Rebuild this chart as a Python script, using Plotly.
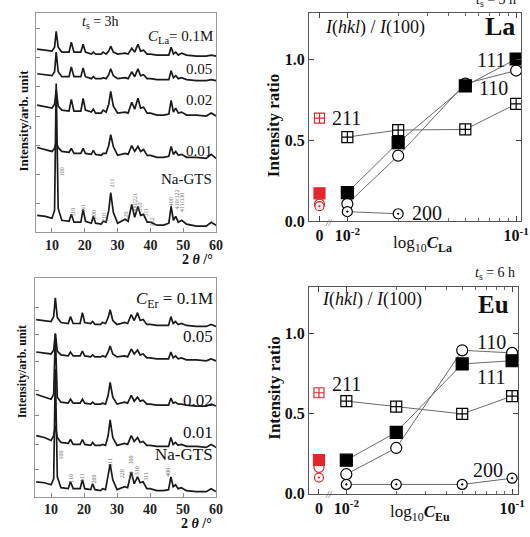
import plotly.graph_objects as go

W, H = 530, 537
def px(x): return x / W
def py(y): return 1 - y / H

# ---------------- XRD data (2theta grid shared, intensities in arb. units) ----------------
TT = [5.5, 8, 10, 10.8, 11.3, 11.9, 13, 15.2, 15.9, 16.7, 18.8, 19.5, 20.2, 22.0, 22.6,
      23.3, 25, 25.6, 26.5, 27.3, 27.9, 28.7, 30, 32.3, 33.2, 34.3, 35.2, 36.2, 37, 37.9,
      39, 40, 42, 44, 45.6, 46.3, 47, 47.7, 48.5, 49.5, 51, 54, 57, 58.5, 60]

LA_NAGTS = [17, 16, 14, 22, 151, 24, 12, 11, 18, 10, 10, 23, 11, 9, 16, 9, 8, 11, 10, 22,
            40, 20, 9, 13, 11, 28, 15, 26, 17, 18, 10, 10, 7, 7, 9, 26, 12, 16, 10, 12, 8, 6, 6, 10, 7]
LA_001 = [86, 84, 82, 85, 92, 86, 82, 81, 85, 80, 80, 85, 80, 79, 83, 79, 78, 80, 80, 88,
          99, 87, 78, 80, 79, 88, 82, 87, 82, 84, 78, 78, 76, 76, 77, 87, 79, 82, 78, 79, 76, 76, 75, 79, 75]
LA_002 = [129, 127, 126, 130, 145, 128, 124, 123, 135, 123, 123, 136, 124, 122, 125, 121, 121, 124, 122, 130,
          143, 128, 121, 122, 121, 132, 125, 136, 126, 127, 121, 121, 119, 119, 120, 134, 122, 126, 121, 122,
          119, 119, 118, 121, 118]
LA_005 = [161, 160, 159, 163, 183, 163, 158, 158, 168, 158, 158, 167, 158, 156, 158, 156, 156, 157, 156, 160,
          166, 159, 156, 157, 156, 163, 158, 166, 159, 160, 156, 156, 155, 155, 155, 164, 157, 159, 156, 157,
          155, 154, 154, 155, 154]
LA_01 = [186, 185, 184, 188, 204, 188, 183, 183, 193, 183, 183, 191, 183, 181, 183, 181, 181, 183, 181, 184,
         189, 183, 181, 182, 181, 187, 183, 191, 184, 185, 181, 181, 180, 180, 180, 188, 181, 183, 180, 182,
         180, 179, 179, 180, 179]

ER_NAGTS = [15, 14, 12, 18, 130, 20, 9, 8, 15, 8, 8, 17, 8, 7, 13, 7, 6, 8, 7, 20,
            33, 17, 7, 10, 9, 25, 13, 20, 14, 15, 8, 8, 6, 6, 7, 20, 10, 12, 8, 9, 6, 5, 5, 8, 5]
ER_001 = [62, 60, 57, 62, 72, 60, 55, 54, 58, 53, 53, 58, 53, 52, 55, 52, 52, 53, 52, 62,
          78, 60, 52, 54, 53, 62, 56, 60, 55, 56, 52, 52, 51, 51, 51, 60, 53, 55, 52, 53, 51, 51, 50, 53, 50]
ER_002 = [104, 101, 99, 104, 165, 101, 96, 95, 99, 95, 95, 99, 95, 94, 96, 94, 94, 95, 94, 103,
          116, 101, 94, 96, 95, 103, 97, 101, 97, 98, 94, 94, 93, 93, 93, 100, 95, 96, 94, 94, 93, 92, 92, 94, 92]
ER_005 = [147, 146, 145, 149, 166, 148, 144, 143, 147, 143, 143, 148, 143, 142, 144, 142, 142, 143, 142, 147,
          153, 145, 142, 143, 142, 150, 145, 149, 144, 145, 141, 141, 140, 140, 140, 147, 141, 143, 140, 141,
          139, 139, 138, 140, 138]
ER_01 = [180, 179, 178, 183, 202, 182, 177, 176, 183, 176, 176, 187, 177, 176, 178, 175, 175, 177, 176, 182,
         190, 179, 175, 177, 176, 185, 179, 187, 179, 180, 175, 175, 174, 174, 174, 183, 176, 178, 175, 176,
         174, 173, 173, 175, 173]

XRD_TICKS = [10, 20, 30, 40, 50, 60]

# ---------------- Intensity ratio data ----------------
CONC = [0.01, 0.02, 0.05, 0.1]
ZERO_POS = 10 ** -2.165   # where the "0" (Na-GTS) column sits on the broken log axis

LA_111 = [0.176, 0.485, 0.834, 1.0]
LA_110 = [0.107, 0.404, 0.848, 0.929]
LA_211 = [0.519, 0.562, 0.566, 0.723]
LA_200 = [0.059, 0.046, None, None]
LA_ZERO = {"111": 0.172, "110": 0.105, "211": 0.636, "200": 0.093}

EU_111 = [0.209, 0.383, 0.81, 0.83]
EU_110 = [0.121, 0.285, 0.895, 0.879]
EU_211 = [0.578, 0.543, 0.498, 0.609]
EU_200 = [0.057, 0.057, 0.057, 0.096]
EU_ZERO = {"111": 0.21, "110": 0.164, "211": 0.63, "200": 0.10}

SERIF = "Liberation Serif"
RED = "#e3262e"
LINE_GRAY = "#6a6a6a"

fig = go.Figure()

# ---------------- XRD traces ----------------
for ys in [LA_NAGTS, LA_001, LA_002, LA_005, LA_01]:
    fig.add_trace(go.Scatter(x=TT, y=ys, mode="lines", line=dict(color="#1a1a1a", width=1.7),
                             xaxis="x", yaxis="y", showlegend=False, hoverinfo="skip"))
for ys in [ER_NAGTS, ER_001, ER_002, ER_005, ER_01]:
    fig.add_trace(go.Scatter(x=TT, y=ys, mode="lines", line=dict(color="#1a1a1a", width=1.7),
                             xaxis="x2", yaxis="y2", showlegend=False, hoverinfo="skip"))

# ---------------- Ratio panels ----------------
SYM = {
    "111": dict(symbol="square", size=12),
    "110": dict(symbol="circle", size=11),
    "211": dict(symbol="square-cross", size=11),
    "200": dict(symbol="circle-dot", size=10),
}

def ratio_panel(xa, ya, series, zero):
    for key, vals in series.items():
        fig.add_trace(go.Scatter(x=CONC, y=vals, mode="lines", line=dict(color=LINE_GRAY, width=1),
                                 xaxis=xa, yaxis=ya, showlegend=False, hoverinfo="skip", connectgaps=False))
    for key, vals in series.items():
        s = SYM[key]
        fill = "black" if key == "111" else "white"
        fig.add_trace(go.Scatter(x=CONC, y=vals, mode="markers",
                                 marker=dict(symbol=s["symbol"], size=s["size"], color=fill,
                                             line=dict(color="black", width=1.2)),
                                 xaxis=xa, yaxis=ya, showlegend=False))
    for key in ["211", "110", "200", "111"]:
        s = SYM[key]
        fill = RED if key == "111" else "white"
        fig.add_trace(go.Scatter(x=[ZERO_POS], y=[zero[key]], mode="markers",
                                 marker=dict(symbol=s["symbol"], size=s["size"] - 1, color=fill,
                                             line=dict(color=RED, width=1.2)),
                                 xaxis=xa, yaxis=ya, showlegend=False))

ratio_panel("x3", "y3", {"211": LA_211, "110": LA_110, "200": LA_200, "111": LA_111}, LA_ZERO)
ratio_panel("x4", "y4", {"211": EU_211, "110": EU_110, "200": EU_200, "111": EU_111}, EU_ZERO)

# ---------------- Axes ----------------
def xrd_x(domain):
    return dict(domain=domain, range=[5, 60], tickvals=XRD_TICKS, ticks="inside", ticklen=4,
                tickcolor="#888", showline=True, linecolor="#9a9a9a", linewidth=1, mirror=True,
                showgrid=False, zeroline=False,
                tickfont=dict(family=SERIF, size=14, color="#222", weight="bold"))

def xrd_y(domain, rng, tvals):
    return dict(domain=domain, range=rng, tickvals=tvals, ticks="inside", ticklen=4, tickcolor="#888",
                showticklabels=False, showline=True, linecolor="#9a9a9a", linewidth=1, mirror=True,
                showgrid=False, zeroline=False)

def ratio_x(domain, rng):
    return dict(domain=domain, type="log", range=rng,
                tickvals=[ZERO_POS, 0.01, 0.1], ticktext=["0", "10<sup>-2</sup>", "10<sup>-1</sup>"],
                ticks="inside", ticklen=5, tickcolor="#444", mirror="allticks",
                minor=dict(tickvals=[0.02, 0.03, 0.04, 0.05, 0.06, 0.07, 0.08, 0.09], ticks="inside",
                           ticklen=3, tickcolor="#666"),
                showline=True, linecolor="#555", linewidth=1, showgrid=False, zeroline=False,
                tickfont=dict(family=SERIF, size=16, color="#111", weight="bold"))

def ratio_y(domain, rng):
    return dict(domain=domain, range=rng, tickvals=[0, 0.5, 1.0], ticktext=["0.0", "0.5", "1.0"],
                ticks="inside", ticklen=5, tickcolor="#444", mirror="allticks",
                showline=True, linecolor="#555", linewidth=1, showgrid=False, zeroline=False,
                tickfont=dict(family=SERIF, size=16, color="#111", weight="bold"))

fig.update_layout(
    width=W, height=H, margin=dict(l=0, r=0, t=0, b=0),
    paper_bgcolor="white", plot_bgcolor="white", showlegend=False,
    xaxis=dict(xrd_x([px(36), px(219)]), anchor="y"),
    yaxis=dict(xrd_y([py(236), py(13)], [0, 223], [29, 59, 88, 118, 148, 178, 207]), anchor="x"),
    xaxis2=dict(xrd_x([px(35), px(219)]), anchor="y2"),
    yaxis2=dict(xrd_y([py(505), py(283)], [0, 222], [27, 53, 82, 108, 137, 165, 192]), anchor="x2"),
    xaxis3=dict(ratio_x([px(313), px(528)], [-2.228, -0.971]), anchor="y3"),
    yaxis3=dict(ratio_y([py(225), py(13)], [0, 1.285]), anchor="x3"),
    xaxis4=dict(ratio_x([px(313), px(525)], [-2.226, -0.964]), anchor="y4"),
    yaxis4=dict(ratio_y([py(502), py(292)], [0, 1.29]), anchor="x4"),
)

# ---------------- Annotations ----------------
ann = []
def T(x, y, text, size, xanchor="center", yanchor="middle", color="#111", angle=0, bold=False, italic=False):
    f = dict(family=SERIF, size=size, color=color)
    if bold:
        f["weight"] = "bold"
    if italic:
        f["style"] = "italic"
    ann.append(dict(x=px(x), y=py(y), xref="paper", yref="paper", text=text, showarrow=False,
                    xanchor=xanchor, yanchor=yanchor, font=f, textangle=angle))

# top XRD labels
T(102, 23, "<i>t</i><sub>s</sub> = 3h", 14)
T(218, 38, "<i>C</i><sub>La</sub>= 0.1M", 15, xanchor="right")
T(217, 70, "0.05", 15, xanchor="right")
T(217, 102, "0.02", 15, xanchor="right")
T(217, 154, "0.01", 15, xanchor="right")
T(217, 182, "Na-GTS", 15, xanchor="right")
T(24, 123, "Intensity/arb. unit", 13, angle=-90, bold=True)
T(200, 264, "2<i> θ</i> /°", 14, bold=True)

# bottom XRD labels
T(218, 305, "<i>C</i><sub>Er</sub> = 0.1M", 17, xanchor="right")
T(218, 342, "0.05", 17, xanchor="right")
T(218, 407, "0.02", 17, xanchor="right")
T(218, 440, "0.01", 17, xanchor="right")
T(218, 462, "Na-GTS", 17, xanchor="right")
T(22, 378, "Intensity/arb. unit", 12, angle=-90, bold=True)
T(199, 532, "2<i> θ</i> /°", 14, bold=True)

# tiny hkl labels on Na-GTS patterns
for (x, y, t) in [(63, 175, "100"), (74, 216, "110"), (85, 211, "111"), (96, 218, "200"), (106, 221, "210"),
                  (113, 186, "211"), (128, 220, "220"), (136, 206, "300/221"), (142, 211, "310"),
                  (148, 216, "311"), (154, 225, "222"), (173, 205, "400"), (179, 203, "410/322"),
                  (184, 206, "411/330")]:
    T(x, y, t, 6, color="#777", angle=-90)
for (x, y, t) in [(62, 463, "100"), (72, 487, "110"), (83, 485, "111"), (95, 487, "200"), (112, 470, "211"),
                  (124, 482, "220"), (133, 468, "300"), (133, 484, "221"), (139, 479, "310"),
                  (148, 485, "311"), (170, 480, "400")]:
    T(x, y, t, 6, color="#666", angle=-90)

# La ratio panel
T(380, 28, "<i>I</i>(<i>hkl</i>) / <i>I</i>(100)", 18)
T(507, 27, "La", 26, bold=True)
T(503, 0, "<i>t</i><sub>s</sub> = 3 h", 14)
T(498, 61, "111", 20)
T(500, 89, "110", 20)
T(351, 120, "211", 20)
T(433, 217, "200", 20)
T(278, 128, "Intensity ratio", 17, angle=-90, bold=True)
T(428, 248, "log<sub>10</sub><b><i>C</i><sub>La</sub></b>", 17)
T(333, 226, "//", 10, italic=True, color="#555")

# Eu ratio panel
T(377, 305, "<i>I</i>(<i>hkl</i>) / <i>I</i>(100)", 18)
T(500, 310, "Eu", 25, bold=True)
T(502, 278, "<i>t</i><sub>s</sub> = 6 h", 14)
T(498, 348, "110", 20)
T(498, 383, "111", 20)
T(351, 391, "211", 20)
T(495, 478, "200", 20)
T(278, 395, "Intensity ratio", 17, angle=-90, bold=True)
T(426, 522, "log<sub>10</sub><b><i>C</i><sub>Eu</sub></b>", 17)
T(333, 503, "//", 10, italic=True, color="#555")

fig.update_layout(annotations=ann)
fig.write_html("out.html")
